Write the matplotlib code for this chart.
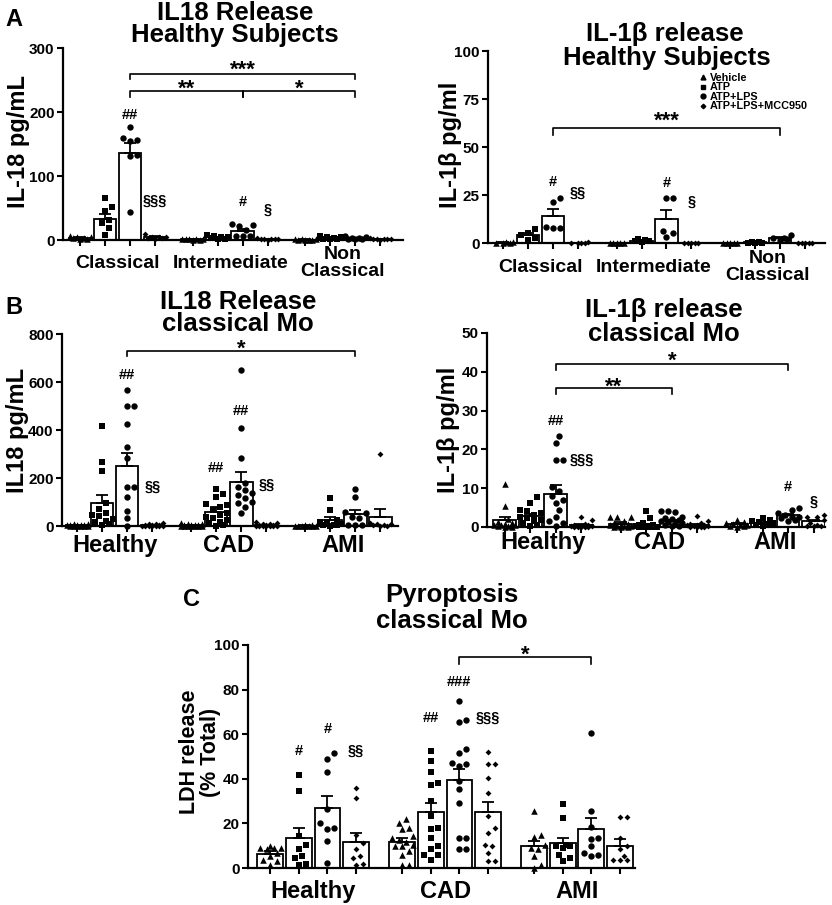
import numpy as np
import matplotlib
matplotlib.use("Agg")
import matplotlib.pyplot as plt
from matplotlib.lines import Line2D

plt.rcParams['font.family'] = ['Liberation Sans', 'DejaVu Sans']
plt.rcParams['font.weight'] = 'bold'

W, H = 832, 905

treatments = ['Vehicle', 'ATP', 'ATP+LPS', 'ATP+LPS+MCC950']
markers = ['^', 's', 'o', 'D']
msizes = [22, 15, 21, 9]

subsets = ['Classical', 'Intermediate', 'Non\nClassical']
patients = ['Healthy', 'CAD', 'AMI']

# ---- A left: IL-18, healthy subjects, monocyte subsets ----
a1_pts = [
    [[5, 4, 3, 2, 1, 6, 3], [65, 51, 46, 31, 27, 18, 8],
     [176, 160, 157, 154, 133, 131, 44], [10, 5, 4, 3, 2, 5, 3]],
    [[2, 1, 1, 0.5, 2, 1, 0], [8, 6, 5, 4, 3, 2, 2],
     [25, 24, 22, 16, 7, 6, 6], [3, 2, 1, 1, 0.5, 2, 1]],
    [[1, 0.5, 0.5, 1, 0, 0.5, 1], [7, 5, 4, 3, 2, 1, 1],
     [6, 4, 3, 3, 2, 2, 1], [3, 2, 2, 1, 1, 0.5, 1]],
]
a1_mean = [[3.5, 33, 136, 4.5], [1, 4, 14.5, 1.5], [0.6, 3, 3, 1.5]]
a1_sem = [[0.7, 8, 16, 1], [0.3, 0.9, 3, 0.4], [0.2, 0.8, 0.7, 0.3]]
a1_marks = [(0, 2, '##', 195), (0, 3, '§§§', 62), (1, 2, '#', 60), (1, 3, '§', 47)]
a1_sig = [((0, 2), (2, 2), 259, 251, '***', -1.4),
          ((0, 2), (1, 2), 233, 224, '**', -2.9),
          ((1, 2), (2, 2), 233, 224, '*', -2.9)]

# ---- A right: IL-1b, healthy subjects ----
a2_pts = [
    [[0.5, 0.3, 0.2, 0.1, 0], [7.5, 5, 4, 2.5, 1.5],
     [23.5, 21.5, 8.5, 8, 8], [0.3, 0.2, 0.2, 0.1, 0.1]],
    [[0, 0.1, 0, 0.1, 0], [2, 1.5, 1, 1, 0.5],
     [23.5, 23.5, 6.5, 5, 3], [0.1, 0, 0.1, 0, 0]],
    [[0, 0, 0, 0, 0.1], [0.5, 0.3, 0.2, 0.2, 0.1],
     [4, 2.5, 2, 1.5, 2.5], [0.1, 0, 0, 0.1, 0]],
]
a2_mean = [[0.2, 4, 14, 0.2], [0.05, 1.2, 12.5, 0.05], [0.02, 0.3, 2.5, 0.04]]
a2_sem = [[0.1, 1, 3.5, 0.05], [0.02, 0.3, 4.5, 0.02], [0.02, 0.1, 0.4, 0.02]]
a2_marks = [(0, 2, '#', 31.8), (0, 3, '§§', 26), (1, 2, '#', 31), (1, 3, '§', 21.7)]
a2_sig = [((0, 2), (2, 2), 60, 56.5, '***', 0.7)]

# ---- B left: IL18, classical monocytes by patient group ----
b1_pts = [
    [[10, 8, 6, 5, 4, 3, 3, 2, 2, 1, 1, 0, 0],
     [415, 265, 230, 95, 70, 55, 45, 40, 30, 20, 15, 10, 5],
     [568, 498, 498, 426, 331, 282, 164, 164, 122, 64, 32, 0],
     [12, 9, 7, 5, 4, 3, 2, 2, 1, 1, 0, 0, 0]],
    [[14, 10, 8, 6, 5, 4, 3, 2, 2, 1, 1, 0, 0, 0],
     [154, 134, 122, 92, 88, 81, 67, 53, 46, 39, 32, 25, 18, 11, 5, 2],
     [648, 408, 282, 181, 164, 150, 136, 129, 115, 102, 95, 81, 53],
     [18, 12, 9, 7, 5, 4, 3, 2, 2, 1, 1, 0, 0, 0]],
    [[5, 3, 2, 2, 1, 1, 0, 0, 0],
     [115, 67, 25, 18, 11, 8, 5, 4, 3, 2],
     [153, 120, 60, 53, 39, 32, 4, 4, 4],
     [300, 11, 7, 7, 4, 4, 2, 0]],
]
b1_mean = [[3.5, 95, 252, 3.5], [4, 60, 185, 4.5], [1.5, 25, 50, 38]]
b1_sem = [[0.9, 35, 54, 1], [1.2, 20, 38, 1.4], [0.6, 12, 17, 32]]
b1_marks = [(0, 2, '##', 630), (0, 3, '§§', 164), (1, 1, '##', 240),
            (1, 2, '##', 481), (1, 3, '§§', 171)]
b1_sig = [((0, 2), (2, 2), 729, 707, '*', -2.9)]

# ---- B right: IL-1b, classical monocytes by patient group ----
b2_pts = [
    [[11, 5.3, 2, 1.2, 1, 0.8, 0.5, 0.5, 0.4, 0.3, 0.2, 0.1, 0],
     [7.7, 6.3, 4.5, 4, 3.6, 3.2, 2.7, 2.3, 1.9, 1.5, 1, 0.6, 0.3],
     [23.5, 21.7, 17.3, 17.3, 10.4, 9.2, 7.9, 7, 6.2, 4.5, 2.7, 1.5, 1, 0.3],
     [2.7, 1.8, 0.8, 0.5, 0.4, 0.3, 0.2, 0.2, 0.1, 0.1, 0, 0, 0]],
    [[2.7, 2.7, 2.7, 1.5, 1, 0.8, 0.5, 0.4, 0.3, 0.2, 0.2, 0.1, 0.1, 0],
     [4, 2.3, 1, 0.5, 0.4, 0.3, 0.2, 0.2, 0.1, 0.1, 0, 0, 0, 0],
     [4, 4, 3.8, 2.7, 2.3, 2, 1.8, 1.5, 1.3, 1, 0.8, 0.5, 0.3, 0.2],
     [2.9, 1.5, 1, 0.8, 0.6, 0.5, 0.4, 0.3, 0.2, 0.1, 0, 0, 0]],
    [[1.9, 1.2, 1, 0.8, 0.5, 0.4, 0.3, 0.2, 0.1],
     [2.3, 1.8, 1.5, 1.2, 1, 0.8, 0.6, 0.4, 0.2],
     [4.9, 4.5, 3.6, 3.2, 2.7, 2.5, 2.2, 1.9, 1.5],
     [3.2, 2.7, 2.5, 1.9, 1, 0.5, 0.3, 0.3, 0.3]],
]
b2_mean = [[1.8, 2.8, 8.6, 0.5], [0.9, 0.5, 1.5, 0.6], [0.8, 1.1, 3, 1.5]]
b2_sem = [[0.9, 0.6, 2.1, 0.2], [0.3, 0.3, 0.3, 0.2], [0.2, 0.2, 0.4, 0.4]]
b2_marks = [(0, 2, '##', 27.3), (0, 3, '§§§', 17.3), (2, 2, '#', 10.3), (2, 3, '§', 6.6)]
b2_sig = [((0, 2), (2, 2), 42, 40.5, '*', -1.7),
          ((0, 2), (1, 2), 35.9, 34.4, '**', -3.8)]

# ---- C: pyroptosis (LDH release), classical monocytes ----
c_pts = [
    [[9.8, 9, 9, 8.3, 6.8, 5.3, 3, 1.5, 3.8, 9],
     [41.8, 34.6, 14.3, 10.5, 8.3, 5.3, 4.5, 2, 1.5],
     [51.6, 48.9, 43.2, 26.3, 20, 18, 17.3, 12, 2.3],
     [36, 31.6, 15, 11.3, 8.6, 5.3, 4.5, 2, 1.5]],
    [[22, 20.3, 18, 17.3, 14.3, 13.5, 12.5, 11.7, 10.5, 9.8, 9.8, 7.5, 6, 1.5, 1.5],
     [52.6, 48.1, 42.9, 37.9, 37.1, 30, 23.3, 18, 17.3, 13.5, 9.8, 8.3, 6, 6, 3.8],
     [74.7, 66.2, 65.4, 53.4, 51.6, 47.1, 46.6, 45.9, 39.1, 35.3, 29.3, 13.5, 13.5, 8.3, 8.3],
     [52.2, 46.6, 46.6, 40.2, 33.5, 23.3, 18, 15.8, 10.5, 9.8, 6.8, 3, 3]],
    [[25.6, 15, 14, 10.5, 9, 8.3, 5.3, 1.5, 0],
     [28.9, 22.6, 10.5, 10, 9.8, 9, 6, 4.5, 3],
     [60.6, 25.6, 18.5, 13.5, 13, 9.8, 6.8, 6, 5.3],
     [23, 22.7, 13.5, 9.8, 8.3, 5.3, 3.8, 3.5, 3.5]],
]
c_mean = [[6.3, 13.5, 27, 11.7], [11.7, 25, 39.5, 25], [9.8, 11, 17.3, 10]]
c_sem = [[1.2, 4.5, 5.2, 3.8], [1.6, 4.3, 5, 4.6], [2.3, 2.5, 5.1, 2.8]]
c_marks = [(0, 1, '#', 52.6), (0, 2, '#', 62.4), (0, 3, '§§', 52.6),
           (1, 1, '##', 67.2), (1, 2, '###', 83.2), (1, 3, '§§§', 67.2)]
c_sig = [((1, 2), (2, 2), 94.7, 91.7, '*', -2.9)]


fig = plt.figure(figsize=(W / 100, H / 100), dpi=100)


def add_ax(l, t, r, b):
    return fig.add_axes([l / W, 1 - b / H, (r - l) / W, (b - t) / H])


def ftext(x, y, s, **kw):
    fig.text(x / W, 1 - y / H, s, **kw)


def swarm(vals, x0, ppu_y, ppu_x, d=7.0, maxw=0.44):
    # spread points sideways so that they do not overlap (Prism-like scatter)
    vals = np.asarray(vals, float)
    order = np.argsort(vals)
    lim = maxw * ppu_x
    cands = [0.0]
    k = 1
    while k * d * 0.5 <= lim:
        cands += [k * d * 0.5, -k * d * 0.5]
        k += 1
    placed = []
    xs = np.full(len(vals), float(x0))
    for i in order:
        y = vals[i] * ppu_y
        best, bestd = 0.0, -1
        for c in cands:
            dm = min([np.hypot(c - px, y - py) for px, py in placed] or [1e9])
            if dm >= d:
                best = c
                break
            if dm > bestd:
                best, bestd = c, dm
        placed.append((best, y))
        xs[i] = x0 + best / ppu_x
    return xs


def panel(rect, pts, means, sems, gap, xlim, ymax, yticks, groups, glab_y, glab_fs,
          marks, sig):
    ax = add_ax(*rect)
    wpx = rect[2] - rect[0]
    hpx = rect[3] - rect[1]
    ppu_x = wpx / (xlim[1] - xlim[0])
    ppu_y = hpx / ymax
    pos = []
    for g in range(3):
        for t in range(4):
            x = g * gap + t
            pos.append(x)
            ax.bar(x, means[g][t], width=0.9, color='white', edgecolor='black',
                   linewidth=1.3, zorder=2)
            ax.errorbar(x, means[g][t], yerr=[[0], [sems[g][t]]], color='black',
                        capsize=4.5, elinewidth=1.3, capthick=1.3, zorder=3)
            xs = swarm(pts[g][t], x, ppu_y, ppu_x)
            ax.scatter(xs, pts[g][t], marker=markers[t], s=msizes[t], color='black',
                       linewidths=0, zorder=4, clip_on=False)
    ax.set_xlim(*xlim)
    ax.set_ylim(0, ymax)
    ax.set_yticks(yticks)
    ax.set_xticks(pos)
    ax.set_xticklabels([])
    for s in ['top', 'right']:
        ax.spines[s].set_visible(False)
    for s in ['left', 'bottom']:
        ax.spines[s].set_linewidth(1.6)
    ax.tick_params(axis='both', width=1.5, length=4, labelsize=11, pad=2)
    for g, name in enumerate(groups):
        ax.text(g * gap + 1.5, glab_y, name, transform=ax.get_xaxis_transform(),
                ha='center', va='center', fontsize=glab_fs, linespacing=0.95)
    for g, t, s, y in marks:
        ax.text(g * gap + t, y, s, ha='center', va='center', fontsize=10.5)
    for (g1, t1), (g2, t2), y, ylo, s, off in sig:
        x1 = g1 * gap + t1
        x2 = g2 * gap + t2
        ax.plot([x1, x1, x2, x2], [ylo, y, y, ylo], color='black', lw=1.2,
                clip_on=False, zorder=5)
        ax.annotate(s, ((x1 + x2) / 2, y), xytext=(0, off), textcoords='offset points',
                    ha='center', va='baseline', fontsize=16)
    return ax


panel((63, 48, 403, 240), a1_pts, a1_mean, a1_sem, 4.5, (-0.68, 12.9), 300,
      [0, 100, 200, 300], subsets, -0.12, 14, a1_marks, a1_sig)
ax_a2 = panel((488, 51, 825, 243), a2_pts, a2_mean, a2_sem, 4.55, (-0.6, 12.9), 100,
              [0, 25, 50, 75, 100], subsets, -0.125, 14, a2_marks, a2_sig)
panel((62, 334, 398, 526), b1_pts, b1_mean, b1_sem, 4.55, (-0.6, 12.8), 800,
      [0, 200, 400, 600, 800], patients, -0.1, 17, b1_marks, b1_sig)
panel((487, 333, 825, 527), b2_pts, b2_mean, b2_sem, 4.55, (-0.7, 12.55), 50,
      [0, 10, 20, 30, 40, 50], patients, -0.082, 17, b2_marks, b2_sig)
panel((248, 645, 635, 868), c_pts, c_mean, c_sem, 4.6, (-0.77, 12.72), 100,
      [0, 20, 40, 60, 80, 100], patients, -0.104, 17, c_marks, c_sig)

# legend
handles = [Line2D([], [], marker=m, color='black', linestyle='none', markersize=ms)
           for m, ms in zip(markers, [3.5, 3.2, 3.5, 2.3])]
ax_a2.legend(handles, treatments, loc='upper left', bbox_to_anchor=(700 / W, 1 - 73 / H),
             bbox_transform=fig.transFigure, frameon=False, fontsize=7.8,
             handlelength=0.5, handletextpad=0.4, labelspacing=-0.05,
             borderpad=0, borderaxespad=0)

# titles
tfs = 18.5
ftext(235, 13, 'IL18 Release', ha='center', va='center', fontsize=tfs)
ftext(235, 35, 'Healthy Subjects', ha='center', va='center', fontsize=tfs)
ftext(665, 34, 'IL-1β release', ha='center', va='center', fontsize=tfs)
ftext(667, 58, 'Healthy Subjects', ha='center', va='center', fontsize=tfs)
ftext(238, 302, 'IL18 Release', ha='center', va='center', fontsize=tfs)
ftext(238, 324, 'classical Mo', ha='center', va='center', fontsize=tfs)
ftext(664, 310, 'IL-1β release', ha='center', va='center', fontsize=tfs)
ftext(664, 334, 'classical Mo', ha='center', va='center', fontsize=tfs)
ftext(452, 595, 'Pyroptosis', ha='center', va='center', fontsize=tfs)
ftext(452, 621, 'classical Mo', ha='center', va='center', fontsize=tfs)

# panel letters
ftext(14, 20, 'A', ha='center', va='center', fontsize=17)
ftext(14, 307, 'B', ha='center', va='center', fontsize=17)
ftext(191, 599, 'C', ha='center', va='center', fontsize=17)

# y labels
ftext(19, 142, 'IL-18 pg/mL', rotation=90, ha='center', va='center', fontsize=17)
ftext(451, 145, 'IL-1β pg/ml', rotation=90, ha='center', va='center', fontsize=17)
ftext(18, 430, 'IL18 pg/mL', rotation=90, ha='center', va='center', fontsize=17)
ftext(448, 430, 'IL-1β pg/ml', rotation=90, ha='center', va='center', fontsize=17)
ftext(200, 752, 'LDH release\n(% Total)', rotation=90, ha='center', va='center',
      fontsize=15.5, linespacing=0.95)

fig.savefig('out.png', dpi=100)
